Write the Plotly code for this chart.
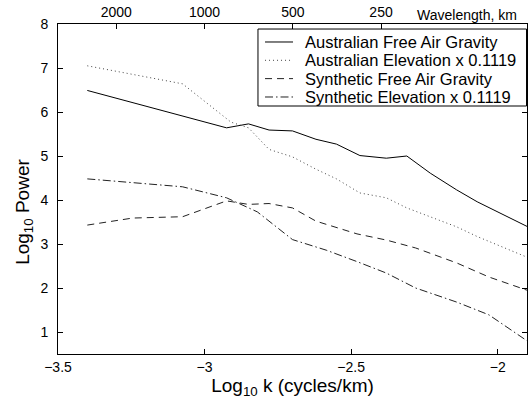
import numpy as np
import plotly.graph_objects as go

# ---- data ----
aus_fag_x = [-3.4, -2.925, -2.85, -2.78, -2.70, -2.62, -2.55, -2.47, -2.38, -2.31, -2.23, -2.14, -2.07, -1.9]
aus_fag_y = [6.49, 5.64, 5.73, 5.59, 5.57, 5.38, 5.27, 5.01, 4.95, 5.00, 4.61, 4.23, 3.96, 3.40]

aus_elev_x = [-3.4, -3.075, -2.91, -2.85, -2.78, -2.70, -2.62, -2.55, -2.47, -2.38, -2.31, -2.23, -2.14, -2.07, -1.9]
aus_elev_y = [7.05, 6.64, 5.77, 5.64, 5.15, 4.98, 4.70, 4.48, 4.16, 4.05, 3.82, 3.62, 3.39, 3.17, 2.70]

syn_fag_x = [-3.4, -3.245, -3.075, -2.925, -2.85, -2.78, -2.70, -2.62, -2.48, -2.38, -2.28, -2.14, -2.03, -1.9]
syn_fag_y = [3.43, 3.59, 3.62, 3.98, 3.90, 3.92, 3.82, 3.52, 3.23, 3.09, 2.91, 2.57, 2.25, 1.95]

syn_elev_x = [-3.4, -3.075, -2.925, -2.82, -2.70, -2.585, -2.48, -2.38, -2.28, -2.14, -2.03, -1.9]
syn_elev_y = [4.48, 4.30, 4.05, 3.73, 3.10, 2.86, 2.60, 2.34, 2.00, 1.68, 1.39, 0.80]

series_names = ["Australian Free Air Gravity", "Australian Elevation x 0.1119",
                "Synthetic Free Air Gravity", "Synthetic Elevation x 0.1119"]

x_ticks = [-3.5, -3, -2.5, -2]
y_ticks = [1, 2, 3, 4, 5, 6, 7, 8]
wavelength_km = [2000, 1000, 500, 250]

FONT = "Liberation Sans, Arial, Helvetica, sans-serif"

styles = [
    dict(color="black", width=1, dash="solid"),
    dict(color="#444", width=1, dash="1px,3px"),
    dict(color="#222", width=1, dash="7px,5px"),
    dict(color="#222", width=1, dash="8px,3px,1.5px,3px"),
]

fig = go.Figure()
for (xs, ys), name, st in zip(
        [(aus_fag_x, aus_fag_y), (aus_elev_x, aus_elev_y),
         (syn_fag_x, syn_fag_y), (syn_elev_x, syn_elev_y)],
        series_names, styles):
    fig.add_trace(go.Scatter(x=xs, y=ys, mode="lines", name=name, line=st,
                             xaxis="x", yaxis="y", showlegend=False))

# invisible trace to anchor the top axis
fig.add_trace(go.Scatter(x=[-3.5, -1.9], y=[None, None], mode="lines",
                         xaxis="x2", yaxis="y", showlegend=False, hoverinfo="skip"))

top_pos = [float(-np.log10(w)) for w in wavelength_km]

axis_common = dict(showgrid=False, zeroline=False, showline=True, linecolor="black",
                   linewidth=1, ticks="inside", ticklen=5, tickcolor="black",
                   tickfont=dict(family=FONT, size=14, color="black"))

# ---- legend (drawn as a boxed key in paper coordinates) ----
leg_box = dict(x0=0.4264, x1=0.999, y0=0.7515, y1=0.9848)
leg_rows_y = [0.9455, 0.8900, 0.8345, 0.7788]
leg_line_x = (0.4414, 0.5011)
leg_text_x = 0.5224

shapes = [dict(type="rect", xref="paper", yref="paper", layer="above",
               fillcolor="white", line=dict(color="black", width=1), **leg_box)]
annotations = []
for name, st, ry in zip(series_names, styles, leg_rows_y):
    shapes.append(dict(type="line", xref="paper", yref="paper", layer="above",
                       x0=leg_line_x[0], x1=leg_line_x[1], y0=ry, y1=ry,
                       line=dict(color=st["color"], width=1, dash=st["dash"])))
    annotations.append(dict(text=name, xref="paper", yref="paper", x=leg_text_x, y=ry,
                            xanchor="left", yanchor="middle", showarrow=False,
                            font=dict(family=FONT, size=16.5, color="black")))

annotations += [
    dict(text="Wavelength, km", xref="paper", yref="paper", x=0.983, y=1.027,
         xanchor="right", yanchor="middle", showarrow=False,
         font=dict(family=FONT, size=14, color="black")),
    dict(text="Log<sub>10</sub> Power", xref="paper", yref="paper",
         x=-0.073, y=0.43, xanchor="center", yanchor="middle", textangle=-90,
         showarrow=False, font=dict(family=FONT, size=19, color="black")),
]

fig.update_layout(
    width=529, height=399,
    margin=dict(l=58, r=2, t=24, b=45),
    plot_bgcolor="white", paper_bgcolor="white",
    font=dict(family=FONT, color="black"),
    xaxis=dict(range=[-3.5, -1.9], tickvals=x_ticks,
               ticktext=["\u22123.5", "\u22123", "\u22122.5", "\u22122"],
               title=dict(text="Log<sub>10</sub> k (cycles/km)", font=dict(size=19), standoff=2),
               **axis_common),
    xaxis2=dict(range=[-3.5, -1.9], overlaying="x", side="top", anchor="y",
                tickvals=top_pos, ticktext=[str(w) for w in wavelength_km],
                **axis_common),
    yaxis=dict(range=[0.5, 8], tickvals=y_ticks, mirror="ticks", ticklabelstandoff=6,
               **axis_common),
    showlegend=False,
    shapes=shapes,
    annotations=annotations,
)

fig.write_html("out.html")
